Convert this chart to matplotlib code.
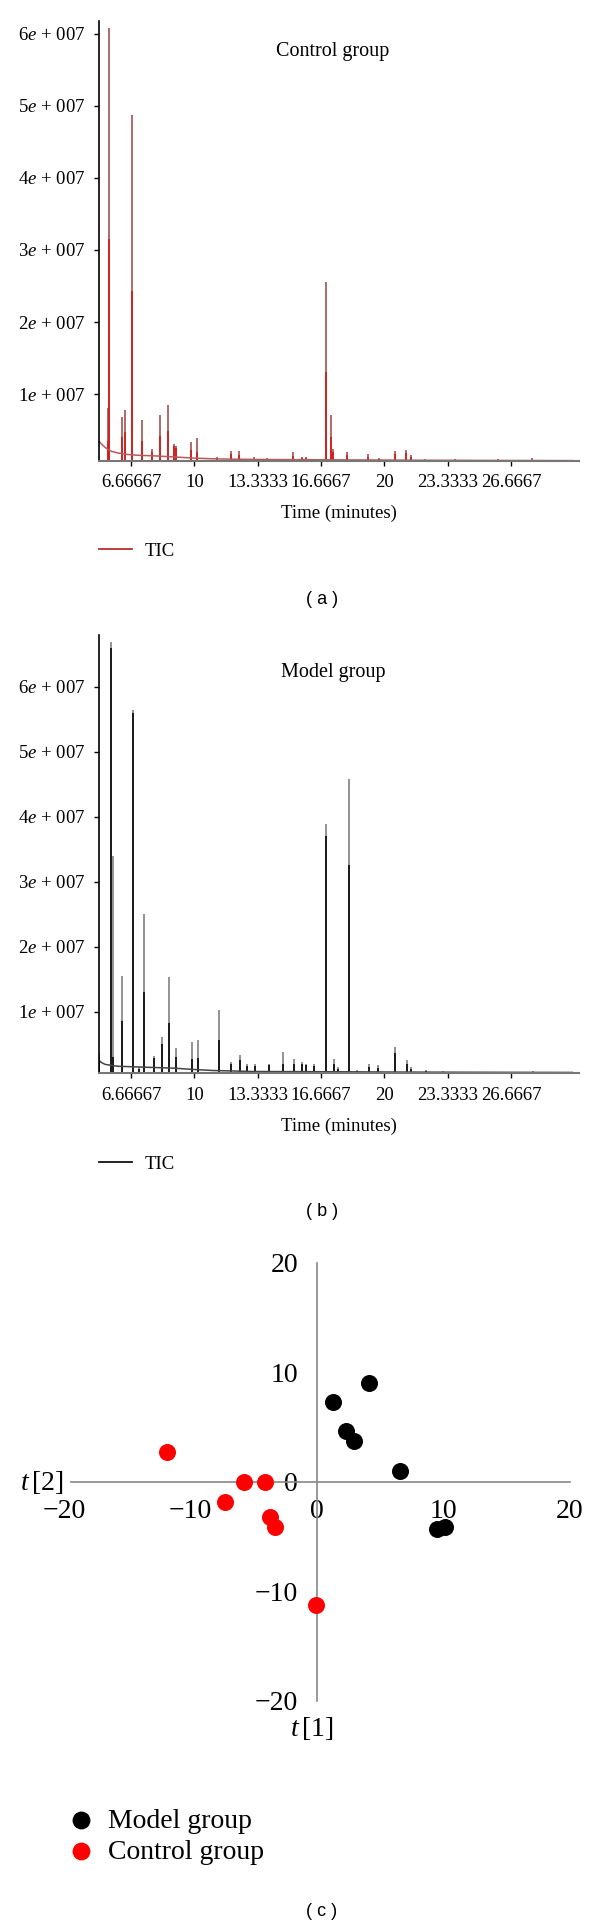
import matplotlib
matplotlib.use('Agg')
from matplotlib import pyplot as plt
from matplotlib.lines import Line2D

plt.rcParams['font.family'] = ['Liberation Serif', 'DejaVu Serif']
plt.rcParams['mathtext.fontset'] = 'custom'
plt.rcParams['mathtext.rm'] = 'Liberation Serif'
plt.rcParams['mathtext.it'] = 'Liberation Serif:italic'

# --- chromatograms (intensity in units of 1e7) ---
time_ticks = [6.66667, 10, 13.3333, 16.6667, 20, 23.3333, 26.6667]
time_labels = ['6.66667', '10', '13.3333', '16.6667', '20', '23.3333', '26.6667']
int_ticks = [1, 2, 3, 4, 5, 6]
int_labels = ['1$e$ + 007', '2$e$ + 007', '3$e$ + 007', '4$e$ + 007', '5$e$ + 007', '6$e$ + 007']

# control group (a)
base_a_t = [5.0, 5.1, 5.3, 5.5, 5.7, 6.0, 6.5, 7.0, 8.0, 9.0, 10.0, 11.0, 12.0, 14.0, 16.0, 18.0, 20.0, 22.0, 25.0, 29.9]
base_a_y = [0.34, 0.31, 0.26, 0.22, 0.20, 0.18, 0.16, 0.15, 0.14, 0.125, 0.11, 0.10, 0.095, 0.09, 0.088, 0.085, 0.083, 0.08, 0.078, 0.075]
peak_a_t = [5.44, 5.52, 6.17, 6.37, 6.73, 7.25, 7.80, 8.20, 8.60, 8.95, 9.02, 9.81, 10.15, 11.22, 11.93, 12.33,
            13.14, 13.84, 15.21, 15.66, 15.86, 16.91, 17.17, 17.32, 18.04, 19.15, 19.70, 20.54, 21.16, 21.40,
            22.15, 23.70, 26.00, 27.80]
peak_a_top = [0.80, 6.08, 0.68, 0.78, 4.88, 0.635, 0.24, 0.705, 0.845, 0.31, 0.28, 0.33, 0.39, 0.12, 0.21, 0.21,
              0.12, 0.11, 0.19, 0.13, 0.13, 2.55, 0.705, 0.24, 0.19, 0.17, 0.11, 0.21, 0.22, 0.16,
              0.10, 0.10, 0.10, 0.11]
peak_a_core = [0.35, 3.15, 0.40, 0.47, 2.43, 0.35, 0.20, 0.42, 0.48, 0.28, 0.25, 0.22, 0.20, 0.10, 0.17, 0.15,
               0.10, 0.10, 0.14, 0.11, 0.11, 1.31, 0.40, 0.20, 0.15, 0.13, 0.10, 0.17, 0.18, 0.13,
               0.09, 0.09, 0.09, 0.09]

# model group (b)
base_b_t = [5.0, 5.1, 5.3, 5.5, 5.7, 6.0, 6.5, 7.0, 8.0, 9.0, 10.0, 11.0, 12.0, 13.0, 15.0, 18.0, 20.0, 22.0, 25.0, 29.9]
base_b_y = [0.25, 0.22, 0.19, 0.18, 0.17, 0.16, 0.155, 0.15, 0.14, 0.13, 0.11, 0.095, 0.088, 0.08, 0.078, 0.075, 0.072, 0.07, 0.068, 0.065]
peak_b_t = [5.01, 5.62, 5.72, 6.22, 6.79, 7.09, 7.33, 7.88, 8.30, 8.68, 9.05, 9.87, 10.20, 11.32, 11.95, 12.39,
            12.80, 13.20, 13.94, 14.65, 15.25, 15.66, 15.90, 16.30, 16.91, 17.38, 17.57, 18.12, 18.58, 19.20,
            19.69, 20.58, 21.20, 21.40, 22.20, 23.10, 27.85]
peak_b_top = [0.385, 6.68, 3.40, 1.55, 5.64, 0.15, 2.51, 0.32, 0.61, 1.53, 0.435, 0.54, 0.57, 1.025, 0.23, 0.33,
              0.195, 0.19, 0.20, 0.385, 0.27, 0.22, 0.20, 0.19, 3.88, 0.27, 0.15, 4.58, 0.10, 0.195,
              0.18, 0.46, 0.25, 0.15, 0.10, 0.08, 0.08]
peak_b_core = [0.30, 6.60, 0.30, 0.85, 5.60, 0.12, 1.31, 0.28, 0.50, 0.82, 0.30, 0.27, 0.28, 0.56, 0.20, 0.25,
               0.17, 0.17, 0.18, 0.20, 0.20, 0.20, 0.18, 0.17, 3.70, 0.20, 0.12, 3.25, 0.09, 0.15,
               0.14, 0.36, 0.20, 0.12, 0.09, 0.07, 0.07]

# --- score plot (c) ---
model_x = [1.3, 4.1, 2.3, 2.9, 6.6, 9.5, 10.1]
model_y = [7.3, 9.0, 4.7, 3.7, 1.0, -4.3, -4.1]
control_x = [-11.9, -5.8, -4.1, -7.3, -3.7, -3.3, -0.1]
control_y = [2.7, 0.0, 0.0, -1.8, -3.2, -4.1, -11.2]
score_ticks = [-20, -10, 0, 10, 20]
score_labels = ['\u221220', '\u221210', '0', '10', '20']

W, H = 600, 1927
fig = plt.figure(figsize=(W / 100, H / 100), dpi=100)


def fx(px):
    return px / W


def fy(py):
    return 1 - py / H


def chromatogram(top_px, bottom_px, ylim, base_t, base_y, pk_t, pk_top, pk_core,
                 c_top, c_core, c_base, c_leg, title, title_y, cap, cap_y):
    ax = fig.add_axes([fx(99.3), fy(bottom_px), fx(579 - 99.3), (bottom_px - top_px) / H])
    ax.vlines(pk_t, 0, pk_top, color=c_top, lw=1.3)
    ax.vlines(pk_t, 0, pk_core, color=c_core, lw=1.3)
    ax.plot(base_t, base_y, color=c_base, lw=1.1)
    ax.set_xlim(5, 30.25)
    ax.set_ylim(*ylim)
    ax.set_xticks(time_ticks, labels=time_labels)
    ax.set_yticks(int_ticks, labels=int_labels)
    ax.spines['top'].set_visible(False)
    ax.spines['right'].set_visible(False)
    ax.spines['left'].set_linewidth(1.2)
    ax.spines['bottom'].set_color('#777777')
    ax.spines['bottom'].set_linewidth(1.5)
    ax.tick_params(axis='both', direction='out', length=3.6, width=1, labelsize=13.5)
    ax.tick_params(axis='y', pad=6.5)
    ax.tick_params(axis='x', pad=6)
    fig.text(fx(333), fy(title_y), title, ha='center', va='center', fontsize=14.5)
    fig.text(fx(339), fy(bottom_px + 52.7), 'Time (minutes)', ha='center', va='center', fontsize=13.5)
    ax.legend(handles=[Line2D([], [], color=c_leg, lw=1.3)], labels=['TIC'], loc='center left',
              bbox_to_anchor=(fx(99), fy(bottom_px + 90.7)), bbox_transform=fig.transFigure,
              frameon=False, borderpad=0, borderaxespad=0, handlelength=1.75, handletextpad=0.7,
              fontsize=13.5)
    fig.text(fx(322), fy(cap_y), cap, ha='center', va='center', fontsize=13,
             family=['Liberation Sans', 'DejaVu Sans'])
    return ax


chromatogram(21, 460.7, (0.074, 6.18), base_a_t, base_a_y, peak_a_t, peak_a_top, peak_a_core,
             '#a86060', '#d21e1e', '#b85a5a', '#b83030', 'Control group', 51.7, '( a )', 599.3)
chromatogram(635, 1073.3, (0.052, 6.795), base_b_t, base_b_y, peak_b_t, peak_b_top, peak_b_core,
             '#8a8a8a', '#111111', '#444444', '#111111', 'Model group', 673, '( b )', 1211.7)

# score plot
axc = fig.add_axes([fx(40), fy(1720), fx(550), 480 / H])
axc.scatter(model_x, model_y, s=150, color='black', lw=0, label='Model group', zorder=3)
axc.scatter(control_x, control_y, s=150, color='#ff0000', lw=0, label='Control group', zorder=3)
axc.set_xlim(-21.93, 21.62)
axc.set_ylim(-21.74, 22.1)
axc.spines['top'].set_visible(False)
axc.spines['right'].set_visible(False)
for side in ['left', 'bottom']:
    axc.spines[side].set_position(('data', 0))
    axc.spines[side].set_color('#888888')
    axc.spines[side].set_linewidth(1.2)
axc.spines['left'].set_bounds(-20, 20)
axc.spines['bottom'].set_bounds(-19.5, 20)
axc.set_xticks(score_ticks, labels=score_labels)
axc.set_yticks(score_ticks, labels=score_labels)
axc.tick_params(axis='both', length=0, labelsize=20)
axc.tick_params(axis='y', pad=13.5)
axc.tick_params(axis='x', pad=12)
fig.text(fx(42), fy(1482), '$t\\,$[2]', ha='center', va='center', fontsize=20)
fig.text(fx(312), fy(1728), '$t\\,$[1]', ha='center', va='center', fontsize=20)
axc.legend(loc='center left', bbox_to_anchor=(fx(68), fy(1836.5)), bbox_transform=fig.transFigure,
           frameon=False, borderpad=0, borderaxespad=0, handlelength=0.9, handletextpad=0.55,
           labelspacing=0.2, fontsize=20, markerscale=1.05)
fig.text(fx(322), fy(1912), '( c )', ha='center', va='center', fontsize=13,
         family=['Liberation Sans', 'DejaVu Sans'])

plt.savefig('out.png', dpi=100)
